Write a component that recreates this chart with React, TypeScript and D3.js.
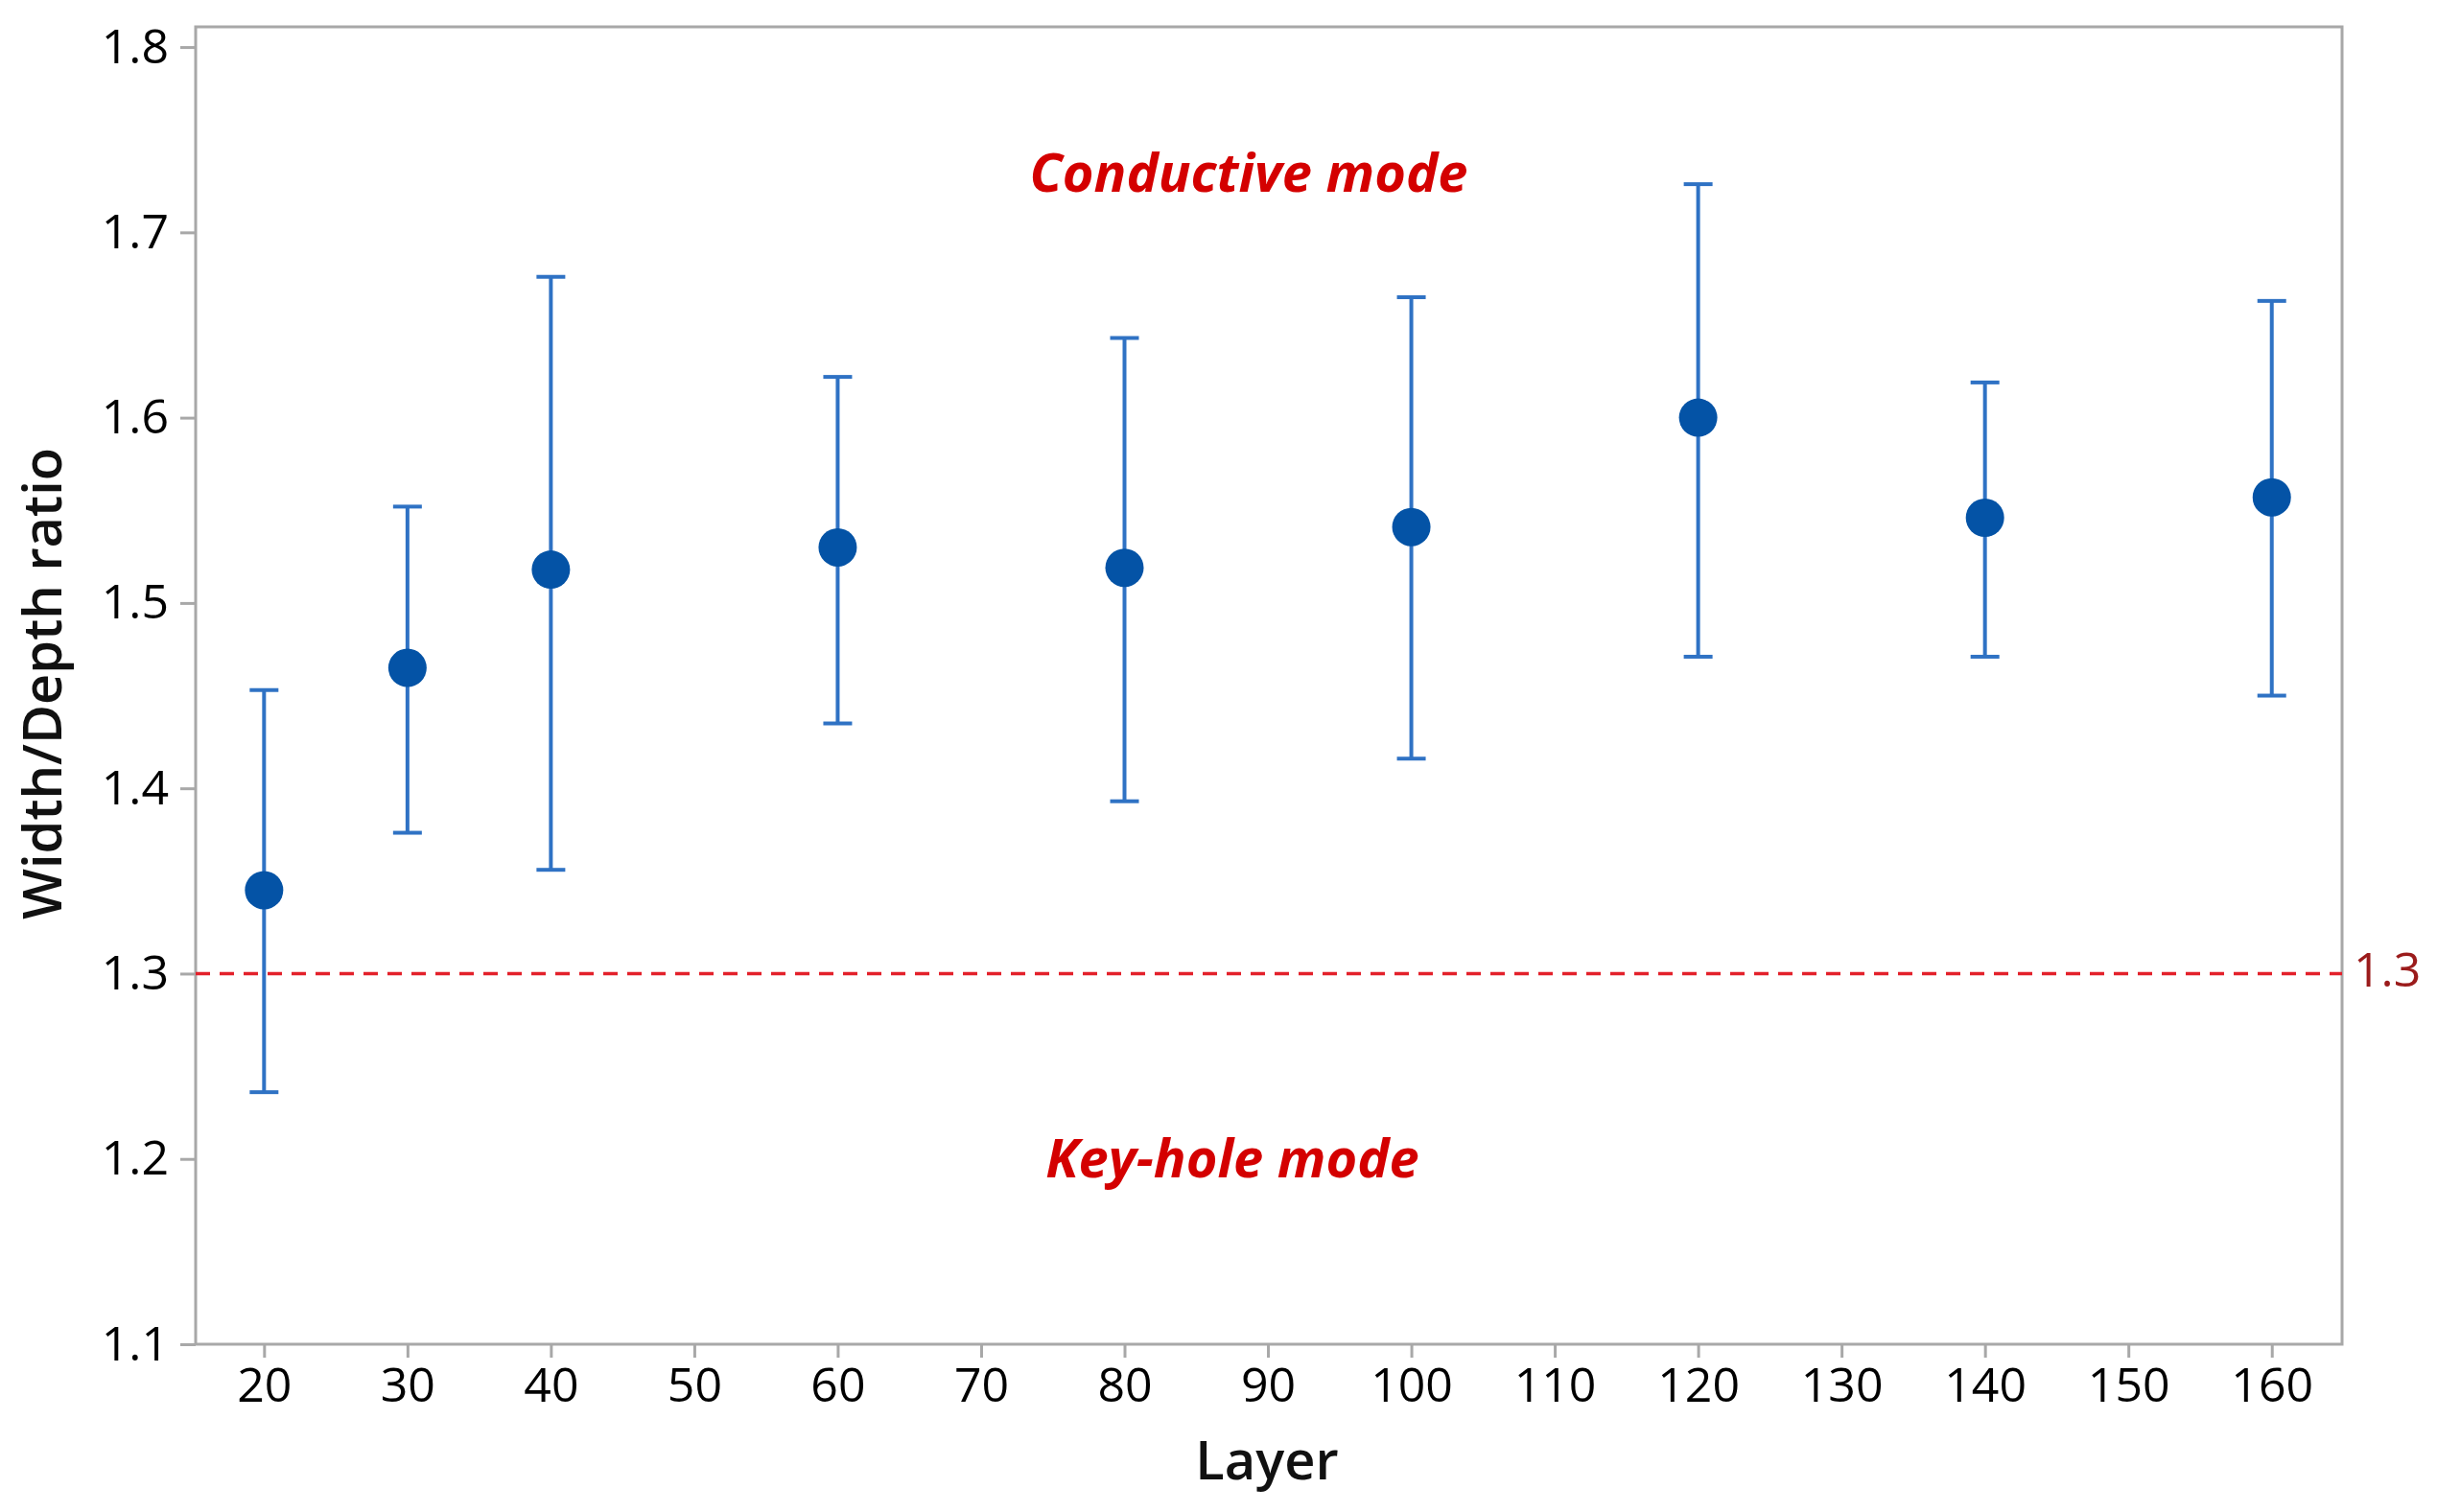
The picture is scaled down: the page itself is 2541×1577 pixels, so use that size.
import { useEffect, useRef } from 'react'
import * as d3 from 'd3'

const layers = [20, 30, 40, 60, 80, 100, 120, 140, 160]
const means = [1.345, 1.465, 1.518, 1.530, 1.519, 1.541, 1.600, 1.546, 1.557]
const uppers = [1.453, 1.552, 1.676, 1.622, 1.643, 1.665, 1.726, 1.619, 1.663]
const lowers = [1.236, 1.376, 1.356, 1.435, 1.393, 1.416, 1.471, 1.471, 1.450]
const xTicks = [20, 30, 40, 50, 60, 70, 80, 90, 100, 110, 120, 130, 140, 150, 160]
const yTicks = [1.1, 1.2, 1.3, 1.4, 1.5, 1.6, 1.7, 1.8]
const threshold = 1.3

const W = 2541
const H = 1577
const FONT = "'Open Sans', 'Noto Sans', sans-serif"

export default function App() {
  const svgRef = useRef<SVGSVGElement>(null)

  useEffect(() => {
    document.body.style.margin = '0'
    if (!svgRef.current) return
    const svg = d3.select(svgRef.current)
    svg.selectAll('*').remove()

    const left = 204, right = 2442, top = 28, bottom = 1402

    const x = d3.scaleLinear().domain([15.23, 164.9]).range([left, right])
    const y = d3.scaleLinear().domain([1.1, 1.8109]).range([bottom, top])

    const frame = '#a8a8a8'

    // 프레임
    svg.append('rect')
      .attr('x', left).attr('y', top)
      .attr('width', right - left).attr('height', bottom - top)
      .attr('fill', 'none').attr('stroke', frame).attr('stroke-width', 3)

    // y 축
    const yAxis = svg.append('g')
      .attr('transform', `translate(${left},0)`)
      .call(d3.axisLeft(y).tickValues(yTicks).tickSize(16).tickPadding(12).tickFormat(d3.format('.1f')))
    yAxis.select('.domain').remove()
    yAxis.selectAll('line').attr('stroke', frame).attr('stroke-width', 3)
    yAxis.selectAll('text')
      .attr('font-family', FONT).attr('font-size', 50).attr('font-weight', 500).attr('fill', '#000')

    // x 축
    const xAxis = svg.append('g')
      .attr('transform', `translate(0,${bottom})`)
      .call(d3.axisBottom(x).tickValues(xTicks).tickSize(14).tickPadding(10))
    xAxis.select('.domain').remove()
    xAxis.selectAll('line').attr('stroke', frame).attr('stroke-width', 3)
    xAxis.selectAll('text')
      .attr('font-family', FONT).attr('font-size', 50).attr('font-weight', 500).attr('fill', '#000')

    // 기준선 1.3
    svg.append('line')
      .attr('x1', left).attr('x2', right)
      .attr('y1', y(threshold)).attr('y2', y(threshold))
      .attr('stroke', '#e3212b').attr('stroke-width', 3.5)
      .attr('stroke-dasharray', '15 10')

    svg.append('text')
      .attr('x', right + 12).attr('y', y(threshold))
      .attr('dominant-baseline', 'middle')
      .attr('font-family', FONT).attr('font-size', 50)
      .attr('fill', '#9b1b1b')
      .text('1.3')

    // 오차 막대
    const bar = '#2f72c4'
    const cap = 15
    const g = svg.append('g')
    layers.forEach((l, i) => {
      const cx = x(l)
      g.append('line')
        .attr('x1', cx).attr('x2', cx)
        .attr('y1', y(uppers[i])).attr('y2', y(lowers[i]))
        .attr('stroke', bar).attr('stroke-width', 4)
      ;[uppers[i], lowers[i]].forEach(v => {
        g.append('line')
          .attr('x1', cx - cap).attr('x2', cx + cap)
          .attr('y1', y(v)).attr('y2', y(v))
          .attr('stroke', bar).attr('stroke-width', 4)
      })
    })

    // 평균 점
    g.selectAll('circle')
      .data(layers)
      .join('circle')
      .attr('cx', d => x(d))
      .attr('cy', (_, i) => y(means[i]))
      .attr('r', 20)
      .attr('fill', '#0453a6')

    // 영역 라벨
    const modeLabel = (text: string, cx: number, cy: number) => {
      svg.append('text')
        .attr('x', cx).attr('y', cy)
        .attr('text-anchor', 'middle')
        .attr('dominant-baseline', 'middle')
        .attr('font-family', FONT).attr('font-size', 56)
        .attr('font-weight', 'bold').attr('font-style', 'italic')
        .attr('fill', '#d40000')
        .text(text)
    }
    modeLabel('Conductive mode', 1302, 185)
    modeLabel('Key-hole mode', 1285, 1213)

    // 축 제목
    svg.append('text')
      .attr('x', 1321).attr('y', 1543)
      .attr('text-anchor', 'middle')
      .attr('font-family', FONT).attr('font-size', 56).attr('font-weight', 600)
      .attr('fill', '#111')
      .text('Layer')

    svg.append('text')
      .attr('transform', `translate(49,${713}) rotate(-90)`)
      .attr('text-anchor', 'middle')
      .attr('dominant-baseline', 'middle')
      .attr('font-family', FONT).attr('font-size', 56).attr('font-weight', 600)
      .attr('fill', '#111')
      .text('Width/Depth ratio')
  }, [])

  return <svg ref={svgRef} width={W} height={H} style={{ display: 'block', background: '#fff' }} />
}
